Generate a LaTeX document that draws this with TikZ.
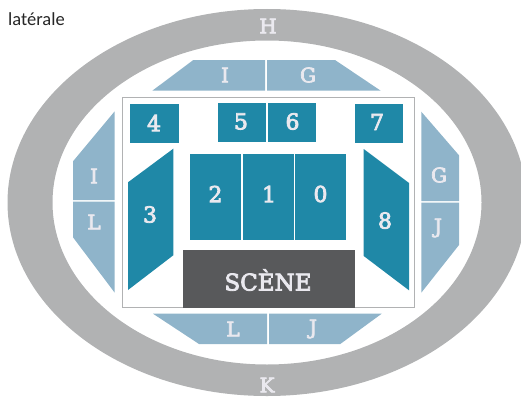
\documentclass[tikz,border=0pt]{standalone}
\usepackage{fontspec}
\setmainfont{DejaVu Serif}
\newfontfamily\notefont{Carlito}
\newfontfamily\labelfont[FakeBold=3.5]{DejaVu Serif}
\definecolor{tealblock}{HTML}{1F88A7}
\definecolor{paleblock}{HTML}{8FB4CA}
\definecolor{ringgray}{HTML}{B1B2B3}
\definecolor{stagegray}{HTML}{58595B}
\definecolor{labelwhite}{HTML}{EAE9EF}
\tikzset{
  block/.style={fill=tealblock},
  pale/.style={fill=paleblock},
  seat/.style={text=labelwhite,font=\labelfont\fontsize{22}{22}\selectfont},
  side/.style={text=labelwhite,font=\labelfont\fontsize{20}{20}\selectfont},
}
\begin{document}
\begin{tikzpicture}[x=1pt,y=-1pt]
\useasboundingbox (0,0) rectangle (521,396);
\clip (0,0) rectangle (521,396);
% Ring (H and K)
\fill[ringgray,even odd rule] (267,202.5) ellipse [x radius=259.5,y radius=193.5]
  (267,202.5) ellipse [x radius=214.5,y radius=162];
\draw[ringgray,line width=1pt] (122.5,97.5) rectangle (414.5,307);

% Pale areas
\fill[pale] (152.3,90.7) -- (193.3,60) -- (265,60) -- (265,90.7) -- cycle;
\fill[pale] (267,60) -- (335,60) -- (380.7,90.7) -- (267,90.7) -- cycle;
\fill[pale] (114.7,111.3) -- (73,161.3) -- (73,200) -- (114.7,200) -- cycle;
\fill[pale] (73,201.7) -- (114.7,201.7) -- (114.7,292.7) -- (73,237.3) -- cycle;
\fill[pale] (421.3,111.7) -- (459,155.3) -- (459,201) -- (421.3,201) -- cycle;
\fill[pale] (421.3,202.7) -- (459,202.7) -- (459,245) -- (421.3,292.7) -- cycle;
\fill[pale] (153,313.7) -- (267,313.7) -- (267,344) -- (199,344) -- cycle;
\fill[pale] (269,313.7) -- (381.7,313.7) -- (340.3,344) -- (269,344) -- cycle;

% Teal blocks
\fill[block] (130,104) rectangle (179,143);
\fill[block] (218,103) rectangle (266,142);
\fill[block] (268,103) rectangle (316,142);
\fill[block] (355,104) rectangle (403,143);
\fill[block] (190,154) rectangle (241,240);
\fill[block] (243,154) rectangle (294,240);
\fill[block] (295,154) rectangle (346,240);
\fill[block] (128,182.3) -- (173.3,148.7) -- (173.3,255.3) -- (128,290) -- cycle;
\fill[block] (363.7,149) -- (409,183) -- (409,290.3) -- (363.7,256) -- cycle;
\fill[stagegray] (183,250) rectangle (355,307.5);

% Labels
\node[seat] (n4) at (154,123) {4};
\node[seat] (n5) at (241,121.5) {5};
\node[seat] (n6) at (292.5,121.5) {6};
\node[seat] (n7) at (377,122) {7};
\node[seat] (n2) at (215.5,194) {2};
\node[seat] (n1) at (269,194) {1};
\node[seat] (n0) at (320.5,194) {0};
\node[seat] (n3) at (150,214.5) {3};
\node[seat] (n8) at (385,220.5) {8};
\node[side] (topI) at (225,75) {I};
\node[side] (topG) at (308,75) {G};
\node[side] (leftI) at (94,176) {I};
\node[side] (leftL) at (94,222) {L};
\node[side] (rightG) at (439,175) {G};
\node[side] (rightJ) at (438,228) {J};
\node[side] (botL) at (233,329) {L};
\node[side] (botJ) at (313,329) {J};
\node[side] (ringH) at (268,26) {H};
\node[side] (ringK) at (267,385) {K};
\node[text=labelwhite,font=\labelfont\fontsize{23}{23}\selectfont] (stage) at (268,280) {SCÈNE};
\node[anchor=west,inner sep=0pt,text=black!85,font=\notefont\fontsize{18.5}{18.5}\selectfont] (note) at (8,19) {latérale};
\end{tikzpicture}
\end{document}
